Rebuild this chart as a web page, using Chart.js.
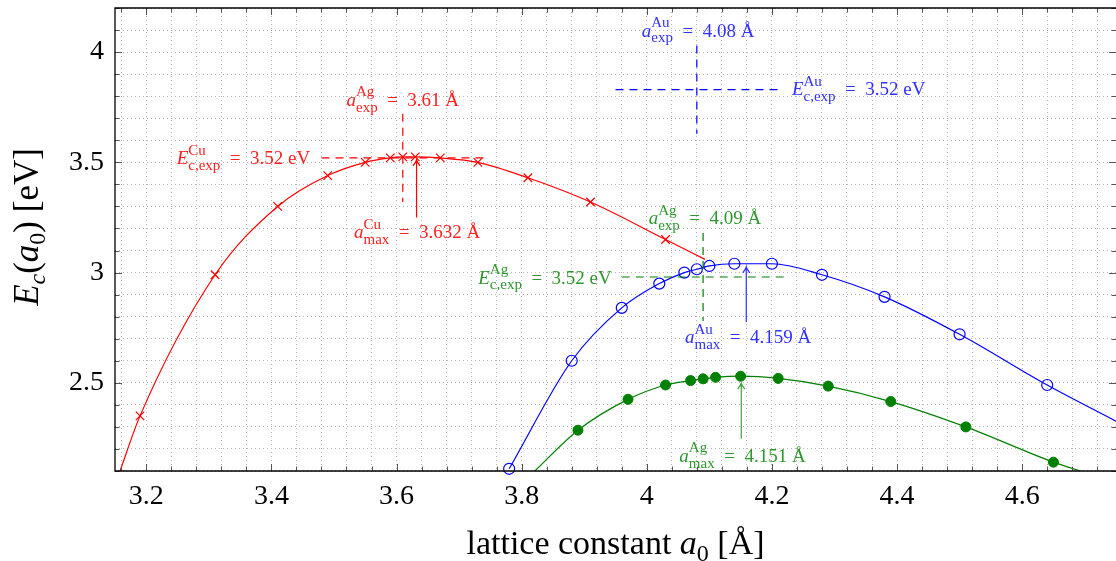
<!DOCTYPE html>
<html lang="en">
  <head>
    <meta charset="UTF-8" />
    <title>Cohesive energy vs lattice constant</title>
    <script src="https://cdn.jsdelivr.net/npm/chart.js"></script>
    <style>
      body { margin: 0; background: #fff; }
      canvas { display: block; }
    </style>
  </head>
  <body>
    <canvas id="ecChart" width="1116" height="561"></canvas>

    <script>
      // Cu (red crosses)
      const cuLattice = [3.19, 3.31, 3.41, 3.49, 3.55, 3.59, 3.61, 3.63, 3.67, 3.73, 3.81, 3.91, 4.03];
      const cuEnergy = [2.35, 2.99, 3.30, 3.44, 3.50, 3.52, 3.525, 3.525, 3.52, 3.50, 3.43, 3.32, 3.15];
      // Au (blue open circles)
      const auLattice = [3.78, 3.88, 3.96, 4.02, 4.06, 4.08, 4.10, 4.14, 4.20, 4.28, 4.38, 4.50, 4.64];
      const auEnergy = [2.11, 2.60, 2.84, 2.95, 3.00, 3.015, 3.03, 3.04, 3.04, 2.99, 2.89, 2.72, 2.49];
      // Ag (green filled circles)
      const agLattice = [3.89, 3.97, 4.03, 4.07, 4.09, 4.11, 4.15, 4.21, 4.29, 4.39, 4.51, 4.65];
      const agEnergy = [2.285, 2.425, 2.49, 2.51, 2.518, 2.525, 2.53, 2.52, 2.485, 2.415, 2.30, 2.14];

      // where the fitted curves leave the plot (first, last); null = curve starts at the first mark
      const cuFitEndA = [3.158, 4.093];
      const cuFitEndE = [2.10, 3.06];
      const auFitEndA = [null, 4.75];
      const auFitEndE = [null, 2.326];
      const agFitEndA = [3.821, 4.693];
      const agFitEndE = [2.10, 2.10];

      const xTickLabels = ["3.2", "3.4", "3.6", "3.8", "4", "4.2", "4.4", "4.6"];
      const yTickLabels = ["2.5", "3", "3.5", "4"];

      // experimental values: dashed cross centre, arrows at the fitted maximum
      const expA = [3.61, 4.08, 4.09];
      const expE = [3.52, 3.83, 2.98];
      const maxA = [3.632, 4.159, 4.151];
      const arrowFromE = [3.25, 2.776, 2.246];
      const arrowToE = [3.511, 3.026, 2.499];

      const RED = "#ff0000";
      const BLUE = "#0000ff";
      const GREEN = "#008000";
      const SERIF = "'Liberation Serif', 'DejaVu Serif', serif";

      const labels = [
        { x: 3.462, y: 3.52, align: "right", c: "#ff2020", sym: "E", sup: "Cu", sub: "c,exp", rest: "\u2002=\u20023.52 eV" },
        { x: 3.61, y: 3.784, align: "center", c: "#ff2020", sym: "a", sup: "Ag", sub: "exp", rest: "\u2002=\u20023.61 Å" },
        { x: 3.633, y: 3.185, align: "center", c: "#ff2020", sym: "a", sup: "Cu", sub: "max", rest: "\u2002=\u20023.632 Å" },
        { x: 4.082, y: 4.099, align: "center", c: "#3030ff", sym: "a", sup: "Au", sub: "exp", rest: "\u2002=\u20024.08 Å" },
        { x: 4.232, y: 3.833, align: "left", c: "#3030ff", sym: "E", sup: "Au", sub: "c,exp", rest: "\u2002=\u20023.52 eV" },
        { x: 4.162, y: 2.708, align: "center", c: "#3030ff", sym: "a", sup: "Au", sub: "max", rest: "\u2002=\u20024.159 Å" },
        { x: 4.093, y: 3.248, align: "center", c: "#2f962f", sym: "a", sup: "Ag", sub: "exp", rest: "\u2002=\u20024.09 Å" },
        { x: 3.944, y: 2.978, align: "right", c: "#2f962f", sym: "E", sup: "Ag", sub: "c,exp", rest: "\u2002=\u20023.52 eV" },
        { x: 4.153, y: 2.17, align: "center", c: "#2f962f", sym: "a", sup: "Ag", sub: "max", rest: "\u2002=\u20024.151 Å" }
      ];
      const crossColors = [RED, BLUE, GREEN];
      const arrowColors = [RED, "#3030ff", "#40a040"];

      const toPoints = (xs, ys) => xs.map((v, i) => ({ x: v, y: ys[i] }));
      const fitPoints = (xs, ys, endA, endE) => {
        const pts = toPoints(xs, ys);
        if (endA[0] !== null) pts.unshift({ x: endA[0], y: endE[0] });
        if (endA[1] !== null) pts.push({ x: endA[1], y: endE[1] });
        return pts;
      };

      function richWidth(ctx, segs) {
        let w = 0, held = 0;
        for (const s of segs) {
          ctx.font = s.f;
          const sw = ctx.measureText(s.t).width;
          if (s.stack) { held = sw; continue; }
          w += Math.max(sw, held);
          held = 0;
        }
        return w;
      }

      function drawRich(ctx, segs, x, y, align) {
        const w = richWidth(ctx, segs);
        let cx = align === "center" ? x - w / 2 : align === "right" ? x - w : x;
        let held = 0;
        ctx.textAlign = "left";
        ctx.textBaseline = "alphabetic";
        for (const s of segs) {
          ctx.font = s.f;
          const sw = ctx.measureText(s.t).width;
          ctx.fillText(s.t, cx, y + (s.dy || 0));
          if (s.stack) { held = sw; continue; }
          cx += Math.max(sw, held);
          held = 0;
        }
      }

      function mathLabel(l, fs) {
        const small = Math.round(fs * 0.78);
        return [
          { t: l.sym, f: `italic ${fs}px ${SERIF}` },
          { t: l.sup, f: `${small}px ${SERIF}`, dy: -0.5 * fs, stack: true },
          { t: l.sub, f: `${small}px ${SERIF}`, dy: 0.3 * fs },
          { t: l.rest, f: `${fs}px ${SERIF}` }
        ];
      }

      const annotations = {
        id: "annotations",
        afterDatasetsDraw(chart) {
          const { ctx, scales: { x, y } } = chart;
          ctx.save();
          ctx.lineWidth = 1.2;
          // dashed crosses
          expA.forEach((a, i) => {
            ctx.strokeStyle = crossColors[i];
            ctx.setLineDash([8, 6]);
            ctx.beginPath();
            ctx.moveTo(x.getPixelForValue(a - 0.13), y.getPixelForValue(expE[i]));
            ctx.lineTo(x.getPixelForValue(a + 0.13), y.getPixelForValue(expE[i]));
            ctx.moveTo(x.getPixelForValue(a), y.getPixelForValue(expE[i] + 0.2));
            ctx.lineTo(x.getPixelForValue(a), y.getPixelForValue(expE[i] - 0.2));
            ctx.stroke();
          });
          // arrows to the maxima
          ctx.setLineDash([]);
          maxA.forEach((a, i) => {
            const px = x.getPixelForValue(a);
            const y0 = y.getPixelForValue(arrowFromE[i]);
            const y1 = y.getPixelForValue(arrowToE[i]);
            ctx.strokeStyle = arrowColors[i];
            ctx.beginPath();
            ctx.moveTo(px, y0);
            ctx.lineTo(px, y1);
            ctx.moveTo(px - 3.5, y1 + 6);
            ctx.quadraticCurveTo(px - 0.5, y1 + 2, px, y1);
            ctx.quadraticCurveTo(px + 0.5, y1 + 2, px + 3.5, y1 + 6);
            ctx.stroke();
          });
          // labels
          labels.forEach((l) => {
            ctx.fillStyle = l.c;
            const fs = 19;
            drawRich(ctx, mathLabel(l, fs), x.getPixelForValue(l.x), y.getPixelForValue(l.y) + 0.33 * fs, l.align);
          });
          ctx.restore();
        }
      };

      const frame = {
        id: "frame",
        afterDraw(chart) {
          const { ctx, chartArea: a, scales: { x, y } } = chart;
          ctx.save();
          ctx.strokeStyle = "#555";
          ctx.lineWidth = 1;
          ctx.beginPath();
          x.ticks.forEach((t) => {
            const px = Math.round(x.getPixelForValue(t.value)) + 0.5;
            const len = t.label ? 7 : 4.5;
            ctx.moveTo(px, a.bottom); ctx.lineTo(px, a.bottom - len);
            ctx.moveTo(px, a.top); ctx.lineTo(px, a.top + len);
          });
          y.ticks.forEach((t) => {
            const py = Math.round(y.getPixelForValue(t.value)) + 0.5;
            const len = t.label ? 7 : 4.5;
            ctx.moveTo(a.left, py); ctx.lineTo(a.left + len, py);
            ctx.moveTo(a.right, py); ctx.lineTo(a.right - len, py);
          });
          ctx.stroke();

          ctx.strokeStyle = "#000";
          ctx.lineWidth = 1.3;
          ctx.beginPath();
          ctx.moveTo(a.right + 2, a.top);
          ctx.lineTo(a.left, a.top);
          ctx.lineTo(a.left, a.bottom);
          ctx.lineTo(a.right + 2, a.bottom);
          ctx.stroke();

          // axis titles
          ctx.fillStyle = "#000";
          drawRich(ctx, [
            { t: "lattice constant ", f: `34px ${SERIF}` },
            { t: "a", f: `italic 34px ${SERIF}` },
            { t: "0", f: `24px ${SERIF}`, dy: 7 },
            { t: " [Å]", f: `34px ${SERIF}` }
          ], (a.left + a.right) / 2, 554, "center");

          ctx.translate(38, 227);
          ctx.rotate(-Math.PI / 2);
          drawRich(ctx, [
            { t: "E", f: `italic 35px ${SERIF}` },
            { t: "c", f: `italic 24px ${SERIF}`, dy: 7 },
            { t: "(", f: `35px ${SERIF}` },
            { t: "a", f: `italic 35px ${SERIF}` },
            { t: "0", f: `24px ${SERIF}`, dy: 7 },
            { t: ") [eV]", f: `35px ${SERIF}` }
          ], 0, 0, "center");
          ctx.restore();
        }
      };

      // minor ticks every 0.04 (x) and 0.1 (y); labels only where listed
      const minorTicks = (from, to, step) => {
        const out = [];
        for (let k = Math.ceil(from / step - 1e-9); k * step <= to + 1e-9; k++) {
          out.push({ value: Math.round(k * step * 1000) / 1000 });
        }
        return out;
      };
      const labelFor = (v, list) => list.find((s) => Math.abs(parseFloat(s) - v) < 1e-6) || "";
      const tickFont = { family: SERIF, size: 28 };

      new Chart(document.getElementById("ecChart"), {
        type: "scatter",
        data: {
          datasets: [
            { data: toPoints(cuLattice, cuEnergy), pointStyle: "crossRot", pointRadius: 6, borderColor: RED, borderWidth: 1.2, clip: false },
            { data: toPoints(auLattice, auEnergy), pointStyle: "circle", pointRadius: 5.5, borderColor: BLUE, backgroundColor: "rgba(0,0,0,0)", borderWidth: 1.2, clip: false },
            { data: toPoints(agLattice, agEnergy), pointStyle: "circle", pointRadius: 5, borderColor: GREEN, backgroundColor: GREEN, borderWidth: 1, clip: false },
            { data: fitPoints(cuLattice, cuEnergy, cuFitEndA, cuFitEndE), showLine: true, pointRadius: 0, borderColor: RED, borderWidth: 1.2, cubicInterpolationMode: "monotone" },
            { data: fitPoints(auLattice, auEnergy, auFitEndA, auFitEndE), showLine: true, pointRadius: 0, borderColor: BLUE, borderWidth: 1.2, cubicInterpolationMode: "monotone" },
            { data: fitPoints(agLattice, agEnergy, agFitEndA, agFitEndE), showLine: true, pointRadius: 0, borderColor: GREEN, borderWidth: 1.2, cubicInterpolationMode: "monotone" }
          ]
        },
        options: {
          responsive: false,
          animation: false,
          devicePixelRatio: 1,
          layout: { autoPadding: false, padding: { top: 8, right: 0, left: 0, bottom: 0 } },
          plugins: { legend: { display: false }, tooltip: { enabled: false } },
          scales: {
            x: {
              type: "linear",
              min: 3.15,
              max: 4.75,
              grid: { color: "#b4b4b4", lineWidth: 1, drawTicks: false },
              border: { display: false, dash: [1, 3] },
              afterBuildTicks: (s) => { s.ticks = minorTicks(3.15, 4.75, 0.04); },
              ticks: {
                autoSkip: false,
                maxRotation: 0,
                padding: 9,
                color: "#000",
                font: tickFont,
                callback: (v) => labelFor(v, xTickLabels)
              },
              afterFit: (s) => { s.height = 90; s.paddingLeft = 0; s.paddingRight = 0; }
            },
            y: {
              min: 2.1,
              max: 4.2,
              grid: { color: "#b4b4b4", lineWidth: 1, drawTicks: false },
              border: { display: false, dash: [1, 3] },
              afterBuildTicks: (s) => { s.ticks = minorTicks(2.1, 4.2, 0.1); },
              ticks: {
                autoSkip: false,
                padding: 11,
                color: "#000",
                font: tickFont,
                callback: (v) => labelFor(v, yTickLabels)
              },
              afterFit: (s) => { s.width = 115; s.paddingTop = 0; s.paddingBottom = 0; }
            }
          }
        },
        plugins: [annotations, frame]
      });
    </script>
  </body>
</html>
